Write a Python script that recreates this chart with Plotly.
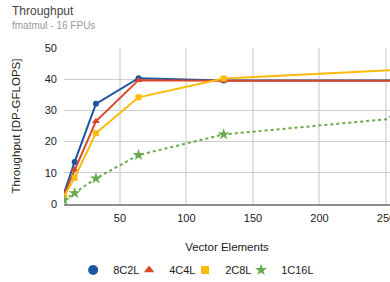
import plotly.graph_objects as go

vector_elements = [8, 16, 32, 64, 128, 256]
tp_8c2l = [3.4, 13.5, 32.1, 40.3, 39.6, 39.6]
tp_4c4l = [3.0, 11.0, 26.5, 39.7, 39.5, 39.5]
tp_2c8l = [2.4, 8.4, 22.7, 34.2, 40.2, 42.9]
tp_1c16l = [1.2, 3.5, 8.2, 15.7, 22.3, 27.4]

series = [
    ("8C2L", tp_8c2l, "#1b56a0", "circle", 6, 10, "solid"),
    ("4C4L", tp_4c4l, "#d9472b", "triangle-up", 7, 9, "solid"),
    ("2C8L", tp_2c8l, "#fbbb0b", "square", 6, 8, "solid"),
    ("1C16L", tp_1c16l, "#69aa4e", "star", 9, 9, "dot"),
]

fig = go.Figure()
for name, vals, color, sym, size, lsize, dash in series:
    fig.add_trace(go.Scatter(
        x=vector_elements, y=vals, name=name, mode="lines+markers",
        line=dict(color=color, width=2, dash=dash),
        marker=dict(symbol=sym, size=size, color=color, line=dict(width=0)),
        showlegend=False, legendgroup=name,
    ))
for name, vals, color, sym, size, lsize, dash in series:
    fig.add_trace(go.Scatter(
        x=[None], y=[None], name=name, mode="markers",
        marker=dict(symbol=sym, size=lsize, color=color, line=dict(width=0)),
        showlegend=True, legendgroup=name,
    ))
# invisible spacer entry so the last legend label is not clipped
fig.add_trace(go.Scatter(x=[None], y=[None], name=" ", mode="markers",
                         marker=dict(size=1, opacity=0), showlegend=True,
                         hoverinfo="skip"))

font = "Arial, Liberation Sans, sans-serif"
fig.update_layout(
    width=390, height=282, autosize=False,
    margin=dict(l=64, r=0, t=48, b=78),
    paper_bgcolor="white", plot_bgcolor="white",
    font=dict(family=font, size=11, color="#222222"),
    showlegend=True,
    legend=dict(orientation="h", x=0.028, y=(282 - 270) / 282, yref="container",
                xanchor="left", yanchor="middle",
                font=dict(size=11, color="#222222"), entrywidth=11,
                itemsizing="trace", itemclick=False, itemdoubleclick=False),
    xaxis=dict(range=[8, 253], tickvals=[50, 100, 150, 200, 250],
               showgrid=True, gridcolor="#e2e2e2", gridwidth=2,
               showline=True, linecolor="#8c8c8c", linewidth=2,
               zeroline=False, ticks="", ticklabelstandoff=3, ticklabeloverflow="allow",
               tickfont=dict(size=11, color="#222222"), automargin=False,
               title=dict(text="Vector Elements", font=dict(size=11.5, color="#222222"), standoff=20)),
    yaxis=dict(range=[0, 50], tickvals=[0, 10, 20, 30, 40, 50],
               showgrid=True, gridcolor="#cccccc", gridwidth=1,
               zeroline=False, showline=False, ticks="", automargin=False,
               ticklabelstandoff=6, tickfont=dict(size=11, color="#222222"),
               title=dict(text="Throughput [DP-GFLOPS]", font=dict(size=11.5, color="#222222"), standoff=21)),
    annotations=[
        dict(text="Throughput", xref="paper", yref="paper", x=(10 - 64) / 326, y=(204 - 11) / 156,
             xanchor="left", yanchor="middle", showarrow=False,
             font=dict(size=12, color="#444444", family=font)),
        dict(text="fmatmul - 16 FPUs", xref="paper", yref="paper", x=(10 - 64) / 326, y=(204 - 25) / 156,
             xanchor="left", yanchor="middle", showarrow=False,
             font=dict(size=10, color="#9a9a9a", family=font)),
    ],
)

fig.write_html("out.html", config={"displayModeBar": False},
               post_script="document.body.style.margin='0';document.body.style.overflow='hidden';")
